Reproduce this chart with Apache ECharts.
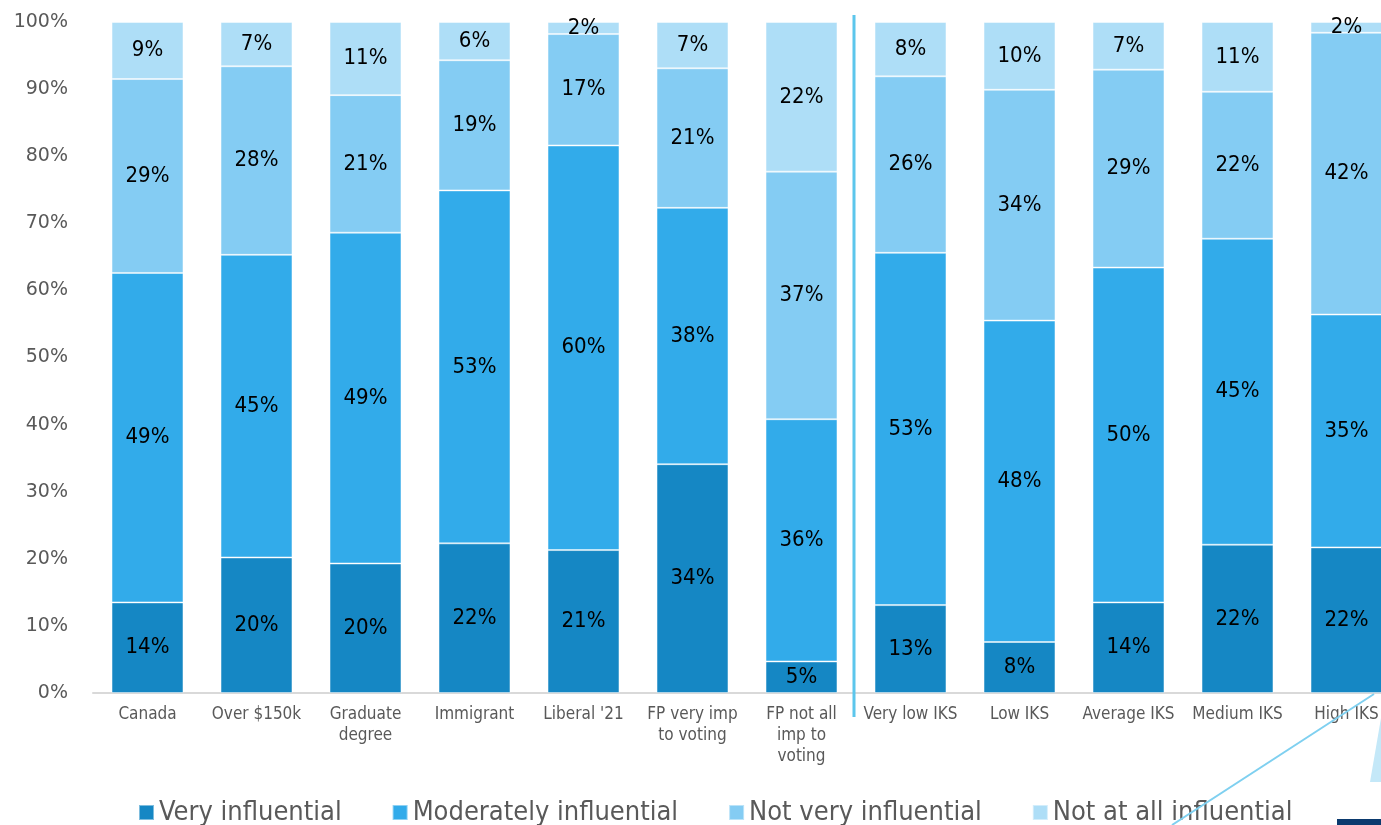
<!DOCTYPE html>
<html>
<head>
<meta charset="utf-8">
<script src="https://cdn.jsdelivr.net/npm/echarts@6/dist/echarts.min.js"></script>
<style>
html,body{margin:0;padding:0;background:#fff;}
#chart{width:1381px;height:825px;}
</style>
</head>
<body>
<div id="chart"></div>
<script>
// Categories
var categories = ['Canada', 'Over $150k', 'Graduate\ndegree', 'Immigrant', "Liberal '21",
  'FP very imp\nto voting', 'FP not all\nimp to\nvoting', 'Very low IKS', 'Low IKS',
  'Average IKS', 'Medium IKS', 'High IKS'];

var seriesNames = ['Very influential', 'Moderately influential', 'Not very influential', 'Not at all influential'];

// Segment sizes
var veryInfluential      = [13.5, 20.2, 19.3, 22.3, 21.3, 34.1, 4.7, 13.1, 7.6, 13.5, 22.1, 21.7];
var moderatelyInfluential = [49.1, 45.1, 49.3, 52.6, 60.3, 38.2, 36.1, 52.5, 47.9, 49.9, 45.6, 34.7];
var notVeryInfluential   = [28.9, 28.1, 20.5, 19.4, 16.6, 20.8, 36.9, 26.3, 34.4, 29.5, 21.9, 42.0];
var notAtAllInfluential  = [8.5, 6.6, 10.9, 5.7, 1.8, 6.9, 22.3, 8.1, 10.1, 7.1, 10.4, 1.6];

// Labels printed on the bars
var veryLabels      = [14, 20, 20, 22, 21, 34, 5, 13, 8, 14, 22, 22];
var moderateLabels  = [49, 45, 49, 53, 60, 38, 36, 53, 48, 50, 45, 35];
var notVeryLabels   = [29, 28, 21, 19, 17, 21, 37, 26, 34, 29, 22, 42];
var notAtAllLabels  = [9, 7, 11, 6, 2, 7, 22, 8, 10, 7, 11, 2];

var yTicks = [0, 10, 20, 30, 40, 50, 60, 70, 80, 90, 100];

var colors = ['#1587C4', '#32ABEA', '#84CCF3', '#AEDEF7'];
var values = [veryInfluential, moderatelyInfluential, notVeryInfluential, notAtAllInfluential];
var labels = [veryLabels, moderateLabels, notVeryLabels, notAtAllLabels];

var NARROW = '"DejaVu Sans Condensed", "DejaVu Sans", sans-serif';

var chart = echarts.init(document.getElementById('chart'), null, {renderer: 'canvas'});

var series = seriesNames.map(function (name, i) {
  return {
    name: name,
    type: 'bar',
    stack: 'total',
    barWidth: '66%',
    data: values[i],
    itemStyle: {color: colors[i], borderColor: 'rgba(255,255,255,0.45)', borderWidth: 1},
    label: {
      show: true,
      position: 'inside',
      color: '#000',
      fontFamily: NARROW,
      fontSize: 22,
      formatter: function (p) { return labels[i][p.dataIndex] + '%'; }
    },
    emphasis: {disabled: true}
  };
});

chart.setOption({
  animation: false,
  color: colors,
  grid: {left: 93, top: 22, bottom: 132, right: -20, containLabel: false, outerBoundsMode: 'none'},
  legend: {
    data: seriesNames,
    left: 133,
    top: 794,
    itemWidth: 15,
    itemHeight: 15,
    itemGap: 50,
    icon: 'rect',
    textStyle: {fontFamily: NARROW, fontSize: 27, color: '#595959'}
  },
  xAxis: {
    type: 'category',
    data: categories,
    axisLine: {show: true, lineStyle: {color: '#d9d9d9', width: 2}},
    axisTick: {show: false},
    axisLabel: {
      interval: 0,
      margin: 11,
      color: '#595959',
      fontFamily: NARROW,
      fontSize: 17,
      lineHeight: 21
    }
  },
  yAxis: {
    type: 'value',
    min: yTicks[0],
    max: yTicks[yTicks.length - 1],
    interval: 10,
    axisLine: {show: false},
    axisTick: {show: false},
    splitLine: {show: false},
    axisLabel: {
      formatter: '{value}%',
      color: '#595959',
      fontFamily: '"DejaVu Sans", sans-serif',
      fontSize: 19,
      margin: 25
    }
  },
  series: series
});

// Divider between the two groups of categories (boundary of the 7th and 8th category bands)
var p6 = chart.convertToPixel({xAxisIndex: 0}, categories[6]);
var p7 = chart.convertToPixel({xAxisIndex: 0}, categories[7]);
var divX = (p6 + p7) / 2 - 2;
var yTop = chart.convertToPixel({yAxisIndex: 0}, 100);
var yBot = chart.convertToPixel({yAxisIndex: 0}, 0);

chart.setOption({
  graphic: [
    {type: 'line', shape: {x1: divX, y1: yTop - 7, x2: divX, y2: yBot + 24},
     style: {stroke: '#5CC6EC', lineWidth: 3}, z: 10},
    {type: 'line', shape: {x1: 1374, y1: yBot + 1, x2: 1172, y2: 825},
     style: {stroke: '#7FD0F0', lineWidth: 2}, z: 10},
    {type: 'polygon', shape: {points: [[1381, 718], [1370, 782], [1381, 782]]},
     style: {fill: '#C4E8F8'}, z: 10},
    {type: 'rect', shape: {x: 1337, y: 819, width: 44, height: 6},
     style: {fill: '#0B3A6E'}, z: 10}
  ]
});
</script>
</body>
</html>
